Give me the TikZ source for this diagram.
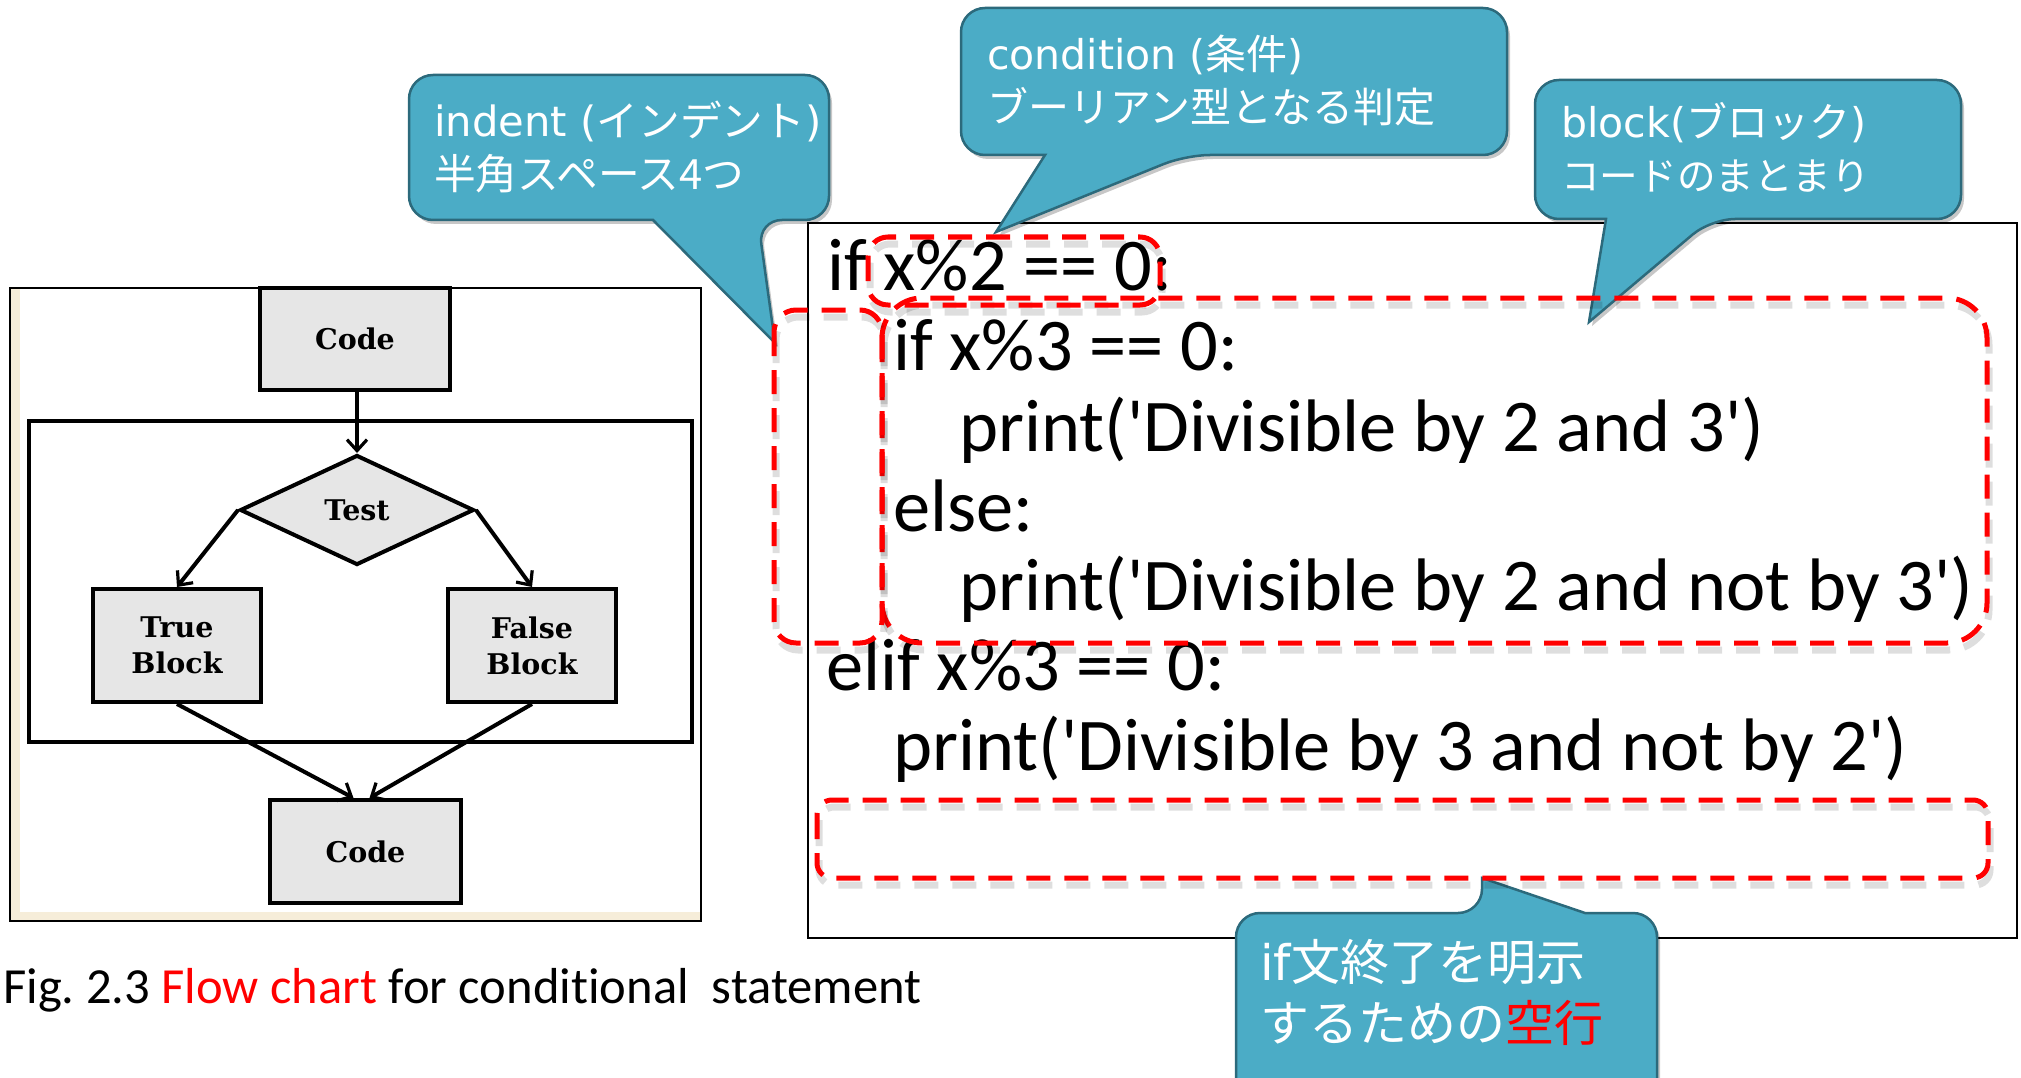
\documentclass[tikz,border=0pt]{standalone}
\usepackage{fontspec}
\setmainfont{Carlito}[Ligatures=NoCommon]
\newfontfamily\codefont{Carlito}[Ligatures={TeXOff,NoCommon}]
\newfontfamily\cjk{Noto Sans CJK JP}
\newfontfamily\dvs{DejaVu Sans}
\newfontfamily\fcserif{DejaVu Serif}
\usetikzlibrary{shapes.geometric,arrows.meta,calc}
\definecolor{calfill}{HTML}{4BACC6}
\definecolor{calborder}{HTML}{2C6A7C}
\definecolor{boxgray}{HTML}{E6E6E6}
\definecolor{cream}{HTML}{F6EDD9}
\begin{document}
\begin{tikzpicture}[x=1pt,y=-1pt,
  fcbox/.style={draw=black, line width=4pt, fill=boxgray, inner sep=0pt,
    font=\fontsize{28.5}{36}\selectfont\fcserif\bfseries, align=center},
  fcarrow/.style={line width=4pt, -{Straight Barb[length=11pt,width=20pt,line width=3.2pt]}},
  codetxt/.style={anchor=base west, inner sep=0pt, font=\fontsize{74.4}{80}\selectfont\codefont},
  caltext/.style={anchor=base west, inner sep=0pt, text=white},
  callout/.style={fill=calfill, draw=calborder, line width=2.5pt,
    preaction={fill=black, opacity=0.22, transform canvas={shift={(3pt,-4pt)}}}},
  redbox/.style={draw=red, line width=5pt, dash pattern=on 24pt off 14pt,
    preaction={draw=black, draw opacity=0.13, line width=7pt, dash pattern=on 24pt off 14pt,
      transform canvas={shift={(2pt,-7pt)}}}},
]
\useasboundingbox (0,0) rectangle (2021,1078);
\clip (0,0) rectangle (2021,1078);
\fill[white] (0,0) rectangle (2021,1078);

% ---------- flow chart ----------
\fill[cream] (10,288) rectangle (701,921);
\fill[white] (20,289) rectangle (700,912);
\draw[line width=2pt] (10,288) rectangle (701,921);
\draw[line width=4pt] (29,421) rectangle (692,742);

\node[fcbox, minimum width=190pt, minimum height=102pt] (code1) at (355,339) {Code};
\node[fcbox, diamond, minimum width=234pt, minimum height=110pt, aspect=2.13] (test) at (357,510) {Test};
\node[fcbox, minimum width=168pt, minimum height=113pt] (tb) at (177,645.5) {True\\Block};
\node[fcbox, minimum width=168pt, minimum height=113pt] (fb) at (532,645.5) {False\\Block};
\node[fcbox, minimum width=191pt, minimum height=103pt] (code2) at (365.5,851.5) {Code};

\draw[fcarrow] (code1.south -| test.north) -- (test.north);
\draw[fcarrow] (test.west) -- (tb.north);
\draw[fcarrow] (test.east) -- (fb.north);
\draw[fcarrow] (tb.south) -- ($(code2.north)+(-12,0)$);
\draw[fcarrow] (fb.south) -- ($(code2.north)+(4,0)$);

\node[anchor=base west, inner sep=0pt, font=\fontsize{50.6}{60}\selectfont] (cap) at (3,1003)
  {Fig.\ 2.3 \textcolor{red}{Flow chart} for conditional\ \ statement};

% ---------- code panel ----------
\draw[line width=2.5pt] (808,223) rectangle (2017,938);
\node[codetxt] (l1) at (827,290) {if x\%2 == 0:};
\node[codetxt] (l2) at (893,370) {if x\%3 == 0:};
\node[codetxt] (l3) at (959,451) {print('Divisible by 2 and 3')};
\node[codetxt] (l4) at (893,531) {else:};
\node[codetxt] (l5) at (959,610) {print('Divisible by 2 and not by 3')};
\node[codetxt] (l6) at (826,690) {elif x\%3 == 0:};
\node[codetxt] (l7) at (893,770) {print('Divisible by 3 and not by 2')};

% ---------- callouts ----------
\draw[callout, rounded corners=24pt] (409,150) -- (409,75) -- (829,75) -- (829,220) -- (758,220)
  [sharp corners] -- (775,343) -- (653,220) [rounded corners=24pt] -- (409,220) -- cycle;
\node[caltext, font=\fontsize{41.7}{48}\selectfont] (ia) at (434,137) {\dvs indent (\cjk インデント\dvs )};
\node[caltext, font=\fontsize{41.7}{48}\selectfont] (ib) at (434,190) {\cjk 半角スペース4つ};

\draw[callout, rounded corners=24pt] (961,80) -- (961,8) -- (1507,8) -- (1507,155) -- (1186,155)
  [sharp corners] -- (996,232) -- (1045,155) [rounded corners=24pt] -- (961,155) -- cycle;
\node[caltext, font=\fontsize{41}{48}\selectfont] (ca) at (987,70) {\dvs condition (\cjk 条件\dvs )};
\node[caltext, font=\fontsize{41}{48}\selectfont] (cb) at (987,123) {\cjk ブーリアン型となる判定};

\draw[callout, rounded corners=24pt] (1535,150) -- (1535,80) -- (1961,80) -- (1961,219) -- (1711,219)
  [sharp corners] -- (1589,322) -- (1606,219) [rounded corners=24pt] -- (1535,219) -- cycle;
\node[caltext, font=\fontsize{41}{48}\selectfont] (ba) at (1561,138) {\dvs block(\cjk ブロック\dvs )};
\node[caltext, font=\fontsize{38.6}{48}\selectfont] (bb) at (1561,191) {\cjk コードのまとまり};

\draw[callout, rounded corners=24pt] (1236,1000) -- (1236,913) -- (1482,913)
  [sharp corners] -- (1482,878) -- (1585,913) [rounded corners=24pt] -- (1657,913) -- (1657,1120) -- (1236,1120) -- cycle;
\node[caltext, font=\fontsize{49}{56}\selectfont] (ea) at (1260,980) {\dvs if\cjk 文終了を明示};
\node[caltext, font=\fontsize{49}{56}\selectfont] (eb) at (1260,1041) {\cjk するための\textcolor{red}{空行}};

% ---------- red dashed boxes ----------
\draw[redbox, rounded corners=40pt] (882,298) rectangle (1987,643);
\draw[redbox, rounded corners=20pt] (868,237) rectangle (1160,305);
\draw[redbox, rounded corners=22pt] (774,310) rectangle (882,643);
\draw[redbox, rounded corners=15pt] (817,800) rectangle (1988,878);
\end{tikzpicture}
\end{document}
